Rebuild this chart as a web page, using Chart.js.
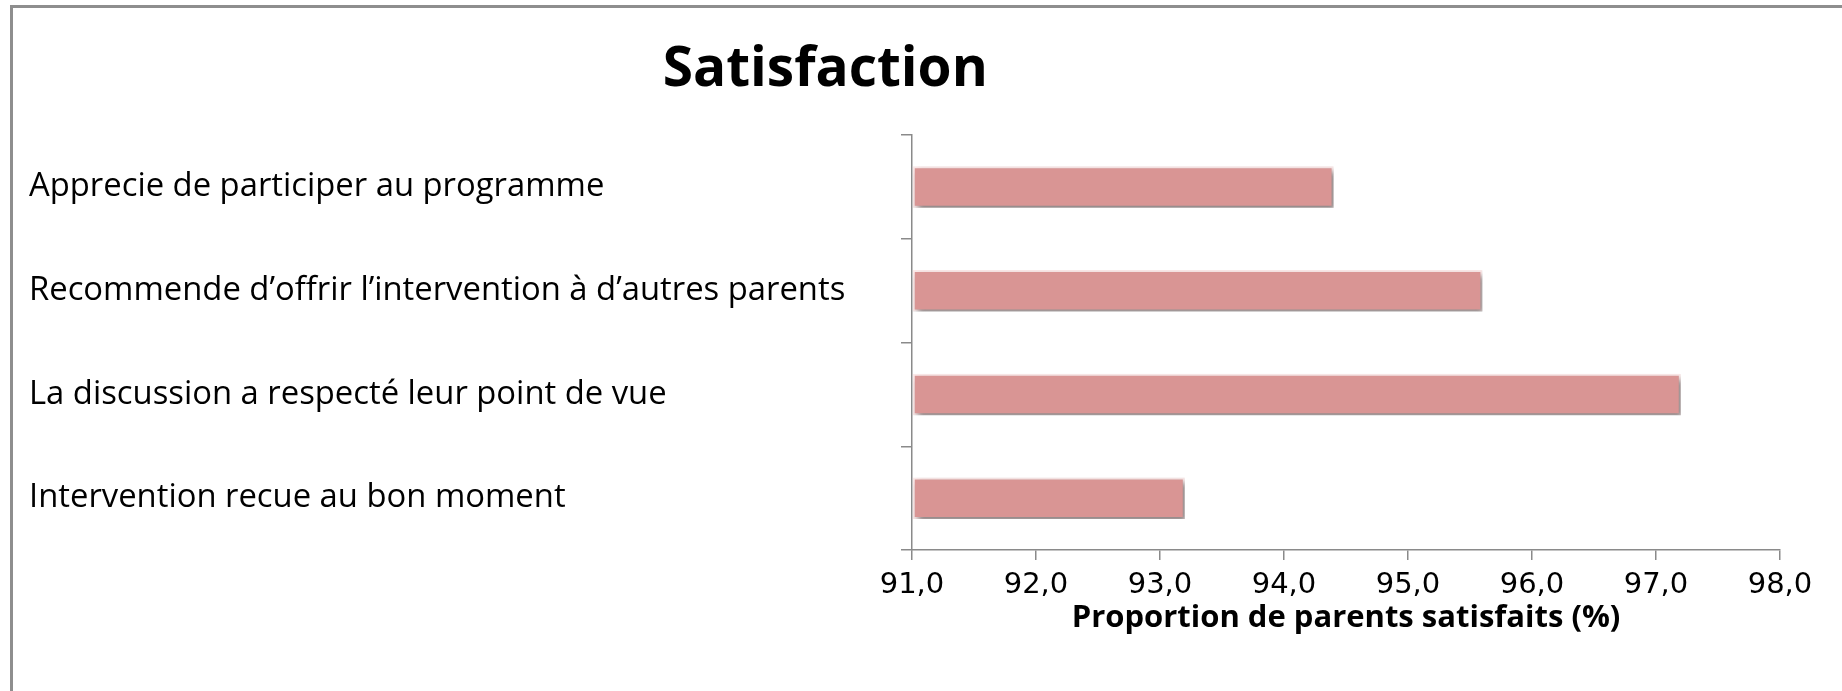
<!DOCTYPE html>
<html lang="fr">
<head>
<meta charset="utf-8">
<title>Satisfaction</title>
<script src="https://cdn.jsdelivr.net/npm/chart.js@4.4.1/dist/chart.umd.min.js"></script>
<style>
  html, body { margin: 0; padding: 0; background: #fff; }
  #wrap { position: relative; width: 1842px; height: 691px; }
  #frame {
    position: absolute; left: 10px; top: 5px; right: 0; bottom: 0;
    border-top: 3px solid #8e8e8e; border-left: 3px solid #8e8e8e;
    pointer-events: none;
  }
</style>
</head>
<body>
<div id="wrap">
  <canvas id="satChart" width="1842" height="691"></canvas>
  <div id="frame"></div>
</div>
<script>
// Données
const categories = [
    "Apprecie de participer au programme",
    "Recommende d’offrir l’intervention à d’autres parents",
    "La discussion a respecté leur point de vue",
    "Intervention recue au bon moment",
];
const satisfaits = [94.4, 95.6, 97.2, 93.2];
const xMin = 91.0;
const xMax = 98.0;
const xStep = 1.0;
const chartTitle = "Satisfaction";
const xTitle = "Proportion de parents satisfaits (%)";

const axisColor = "#8a8a8a";

// ombre portée sous les barres (comme dans Excel)
const barShadow = {
    id: "barShadow",
    beforeDatasetsDraw(chart) {
        const ctx = chart.ctx;
        ctx.save();
        ctx.shadowColor = "rgba(0, 0, 0, 0.45)";
        ctx.shadowBlur = 6;
        ctx.shadowOffsetX = 3;
        ctx.shadowOffsetY = 4;
    },
    afterDatasetsDraw(chart) {
        chart.ctx.restore();
    },
};

// le titre n'est pas centré sur le canvas dans l'original
const titleShift = {
    id: "titleShift",
    afterLayout(chart) {
        const t = chart.titleBlock;
        if (!t) return;
        const cx = chart.width * 0.448;
        const half = Math.min(cx, chart.width - cx);
        t.left = cx - half;
        t.right = cx + half;
    },
};

document.addEventListener("DOMContentLoaded", () => {
    const ctx = document.getElementById("satChart").getContext("2d");
    new Chart(ctx, {
        type: "bar",
        data: {
            labels: categories,
            datasets: [
                {
                    data: satisfaits,
                    base: xMin,
                    backgroundColor: "#D99594",
                    borderColor: "#fbe9e9",
                    borderWidth: 2,
                    borderSkipped: false,
                    barPercentage: 0.4,
                    categoryPercentage: 1.0,
                },
            ],
        },
        options: {
            indexAxis: "y",
            responsive: false,
            animation: false,
            layout: { padding: { left: 29, right: 62, top: 0, bottom: 53 } },
            plugins: {
                legend: { display: false },
                tooltip: { enabled: false },
                title: {
                    display: true,
                    text: chartTitle,
                    color: "#000",
                    font: { family: "'Open Sans'", size: 55, weight: "bold", lineHeight: 1.2 },
                    padding: { top: 37, bottom: 32 },
                },
            },
            scales: {
                x: {
                    min: xMin,
                    max: xMax,
                    ticks: {
                        stepSize: xStep,
                        color: "#000",
                        padding: 11,
                        font: { family: "'DejaVu Sans'", size: 29, lineHeight: 1.0 },
                        callback: (v) => v.toFixed(1).replace(".", ","),
                    },
                    grid: {
                        drawOnChartArea: false,
                        tickLength: 10,
                        color: axisColor,
                        lineWidth: 1.5,
                    },
                    border: { color: axisColor, width: 1.5 },
                    title: {
                        display: true,
                        text: xTitle,
                        color: "#000",
                        font: { family: "'Open Sans'", size: 31, weight: "bold", lineHeight: 1.0 },
                        padding: { top: -8, bottom: 4 },
                    },
                },
                y: {
                    ticks: {
                        color: "#000",
                        crossAlign: "far",
                        font: { family: "'Open Sans'", size: 32.8 },
                    },
                    grid: {
                        offset: true,
                        drawOnChartArea: false,
                        tickLength: 11,
                        color: axisColor,
                        lineWidth: 1.5,
                    },
                    border: { color: axisColor, width: 1.5 },
                    afterFit(scale) {
                        scale.width = 883;
                    },
                },
            },
        },
        plugins: [barShadow, titleShift],
    });
});
</script>
</body>
</html>
